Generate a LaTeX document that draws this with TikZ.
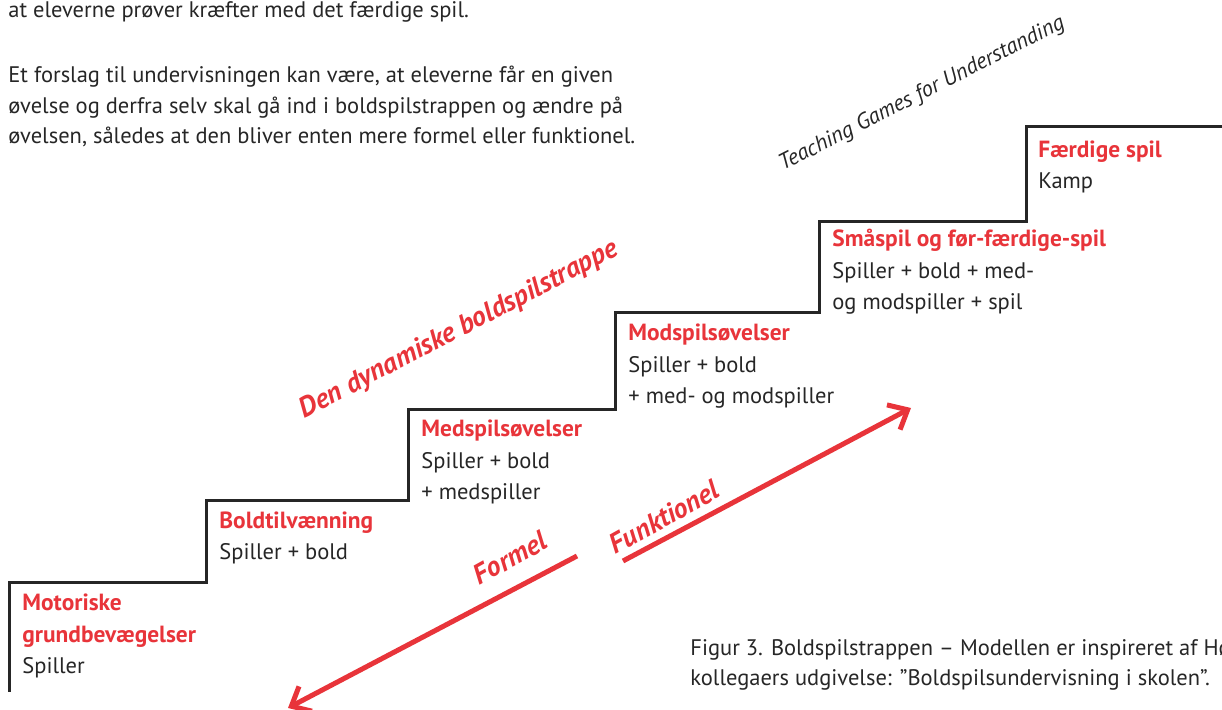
\documentclass[tikz,border=0pt]{standalone}
\usepackage{fontspec}
\setmainfont{PT Sans}
\usepackage{xcolor}
\definecolor{bsred}{RGB}{232,52,58}
\definecolor{bsdark}{RGB}{38,38,38}
\usetikzlibrary{arrows.meta,positioning,calc}
\newcommand{\stephead}[1]{{\fontsize{11.7}{15.75}\selectfont\bfseries\color{bsred}#1}}

\begin{document}
\begin{tikzpicture}[x=0.5pt,y=-0.5pt,
  stepline/.style={draw=bsdark,line width=1.5pt,line join=miter},
  steplabel/.style={anchor=base west,inner sep=0pt,align=left,
    font=\fontsize{11.25}{15.75}\selectfont,text=bsdark},
  bodytext/.style={anchor=base west,inner sep=0pt,align=left,
    font=\fontsize{11.25}{15.25}\selectfont,text=bsdark},
  slogan/.style={font=\fontsize{14}{16}\selectfont\bfseries\itshape,text=bsred,inner sep=0pt},
  arr/.style={-{Straight Barb[length=8pt,width=14pt]},line width=2.5pt,bsred}
]
  \useasboundingbox (0,0) rectangle (1222,710);
  % Step corners
  \coordinate (s0) at (9,692);
  \coordinate (s1) at (9,583);
  \coordinate (s2) at (206,501);
  \coordinate (s3) at (408,410);
  \coordinate (s4) at (615,313);
  \coordinate (s5) at (819,222);
  \coordinate (s6) at (1026,127);
  \coordinate (s7) at (1222,127);
  \draw[stepline] (s0) -- (s1) -| (s2) -| (s3) -| (s4) -| (s5) -| (s6) -- (s7);
  % Step texts (placed by their last line)
  \node[steplabel] (l1) at ($(s1)+(13,91)$) {\stephead{Motoriske}\\\stephead{grundbevægelser}\\Spiller};
  \node[steplabel] (l2) at ($(s2)+(13,59)$) {\stephead{Boldtilvænning}\\Spiller + bold};
  \node[steplabel] (l3) at ($(s3)+(13,90)$) {\stephead{Medspilsøvelser}\\Spiller + bold\\+ medspiller};
  \node[steplabel] (l4) at ($(s4)+(13,91)$) {\stephead{Modspilsøvelser}\\Spiller + bold\\+ med- og modspiller};
  \node[steplabel] (l5) at ($(s5)+(13,88)$) {\stephead{Småspil og før-færdige-spil}\\Spiller + bold + med-\\og modspiller + spil};
  \node[steplabel] (l6) at ($(s6)+(12,62)$) {\stephead{Færdige spil}\\Kamp};
  % Running text
  \node[bodytext] (p1) at (8,18) {at eleverne prøver kræfter med det færdige spil.};
  \node[bodytext] (p2) at (8,144) {Et forslag til undervisningen kan være, at eleverne får en given\\øvelse og derfra selv skal gå ind i boldspilstrappen og ændre på\\øvelsen, således at den bliver enten mere formel eller funktionel.};
  \node[bodytext] (cap) at (690,686) {Figur 3. Boldspilstrappen -- Modellen er inspireret af Hø\\kollegaers udgivelse: ”Boldspilsundervisning i skolen”.};
  % Slanted titles
  \node[slogan,rotate=27.5] (den) at (459,330) {Den dynamiske boldspilstrappe};
  \node[font=\fontsize{11.2}{13}\selectfont\itshape,text=bsdark,inner sep=0pt,rotate=27] (tgfu) at (922,94) {Teaching Games for Understanding};
  \node[slogan,rotate=29] (formel) at (510,558) {Formel};
  \node[slogan,rotate=29] (funk) at (664,517) {Funktionel};
  % Arrows
  \coordinate (fl) at (577,556);
  \coordinate (fltip) at (288,708);
  \coordinate (fu) at (623,561);
  \coordinate (futip) at (911,408);
  \draw[arr] (fl) -- (fltip);
  \draw[arr] (fu) -- (futip);
\end{tikzpicture}
\end{document}
